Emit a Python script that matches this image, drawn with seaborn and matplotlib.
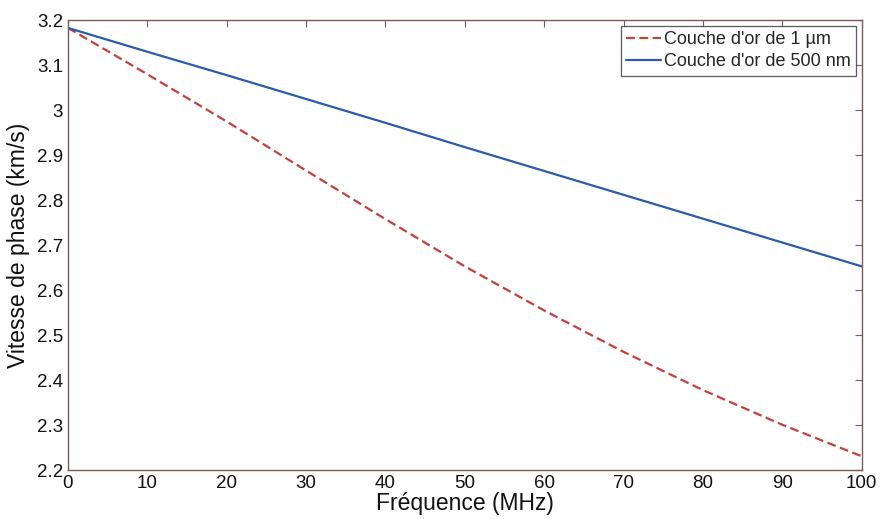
import numpy as np
import pandas as pd
from matplotlib import pyplot as plt
from matplotlib.ticker import FuncFormatter
import seaborn as sns

freq = [0, 10, 20, 30, 40, 50, 60, 70, 80, 90, 100]
v_1um = [3.183, 3.080, 2.975, 2.866, 2.758, 2.653, 2.555, 2.463, 2.378, 2.301, 2.231]
v_500nm = [3.183, 3.130, 3.078, 3.025, 2.972, 2.918, 2.865, 2.812, 2.759, 2.706, 2.653]
labels = ["Couche d'or de 1 µm", "Couche d'or de 500 nm"]

df = pd.concat([
    pd.DataFrame({'freq': freq, 'v': v_1um, 'couche': labels[0]}),
    pd.DataFrame({'freq': freq, 'v': v_500nm, 'couche': labels[1]}),
])

sns.set_style('white')
plt.rcParams['font.family'] = ['Liberation Sans', 'DejaVu Sans']
frame = '#7d5a54'

fig = plt.figure(figsize=(8.82, 5.19), dpi=100)
ax = fig.add_axes([0.077, 0.094, 0.900, 0.867])
sns.lineplot(data=df, x='freq', y='v', hue='couche', style='couche',
             palette=['#c4403a', '#2a5bb0'], dashes=[(4, 2), ''],
             linewidth=1.6, ax=ax)

ax.set_xlim(0, 100)
ax.set_ylim(2.2, 3.2)
ax.set_xticks(np.arange(0, 101, 10))
ax.set_yticks(np.arange(2.2, 3.21, 0.1))
ax.yaxis.set_major_formatter(FuncFormatter(lambda v, p: f'{v:g}' if abs(v - 3) > 1e-6 else '3'))
ax.tick_params(direction='in', length=5, width=0.8, labelcolor='#111111', labelsize=13.5,
               top=True, right=True, color=frame)
for s in ax.spines.values():
    s.set_color(frame)
    s.set_linewidth(1.0)

ax.set_xlabel('Fréquence (MHz)', fontsize=16.5, labelpad=0, color='#111111')
ax.set_ylabel('Vitesse de phase (km/s)', fontsize=16.5, labelpad=5, color='#111111')

leg = ax.legend(loc='upper right', fontsize=13, frameon=True, fancybox=False,
                edgecolor='#333333', handlelength=1.9, handletextpad=0.2,
                borderpad=0.3, labelspacing=0.3, borderaxespad=0.3)
leg.get_frame().set_linewidth(0.9)

plt.savefig('out.png', dpi=100)
